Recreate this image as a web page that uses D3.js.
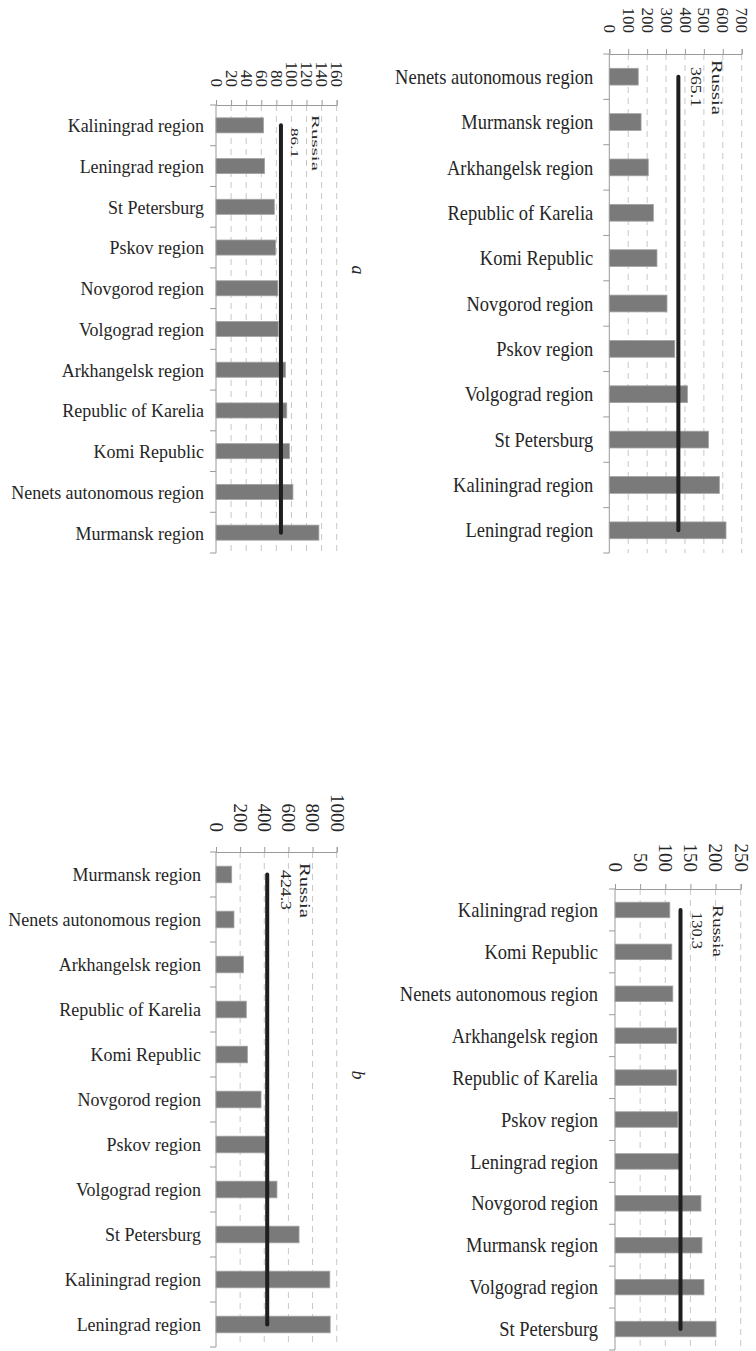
<!DOCTYPE html>
<html>
<head>
<meta charset="utf-8">
<script src="https://cdn.jsdelivr.net/npm/d3@7"></script>
<style>
  body { margin: 0; background: #fff; }
  svg { display: block; }
  text { font-family: "Liberation Serif", "Times New Roman", serif; fill: #262626; }
</style>
</head>
<body>
<svg id="chart" width="756" height="1351"></svg>
<script>
// Panel a, left
const regionsA1 = ["Kaliningrad region", "Leningrad region", "St Petersburg", "Pskov region",
  "Novgorod region", "Volgograd region", "Arkhangelsk region", "Republic of Karelia",
  "Komi Republic", "Nenets autonomous region", "Murmansk region"];
const valuesA1 = [63, 64.4, 77.3, 79, 82, 82.5, 92, 93.8, 97.3, 102, 136.4];
const russiaA1 = 86.1;
const ticksA1 = [0, 20, 40, 60, 80, 100, 120, 140, 160];

// Panel a, right
const regionsA2 = ["Nenets autonomous region", "Murmansk region", "Arkhangelsk region",
  "Republic of Karelia", "Komi Republic", "Novgorod region", "Pskov region",
  "Volgograd region", "St Petersburg", "Kaliningrad region", "Leningrad region"];
const valuesA2 = [153, 168, 206, 233, 252, 305, 346, 413, 524, 582, 617];
const russiaA2 = 365.1;
const ticksA2 = [0, 100, 200, 300, 400, 500, 600, 700];

// Panel b, left
const regionsB1 = ["Murmansk region", "Nenets autonomous region", "Arkhangelsk region",
  "Republic of Karelia", "Komi Republic", "Novgorod region", "Pskov region",
  "Volgograd region", "St Petersburg", "Kaliningrad region", "Leningrad region"];
const valuesB1 = [130, 149, 227, 251, 260, 373, 414, 505, 688, 943, 946];
const russiaB1 = 424.3;
const ticksB1 = [0, 200, 400, 600, 800, 1000];

// Panel b, right
const regionsB2 = ["Kaliningrad region", "Komi Republic", "Nenets autonomous region",
  "Arkhangelsk region", "Republic of Karelia", "Pskov region", "Leningrad region",
  "Novgorod region", "Murmansk region", "Volgograd region", "St Petersburg"];
const valuesB2 = [109, 113, 115, 123, 123, 125, 131, 171, 173, 177, 201];
const russiaB2 = 130.3;
const ticksB2 = [0, 50, 100, 150, 200, 250];

const svg = d3.select("#chart");

const panels = [
  { cats: regionsA1, vals: valuesA1, russia: russiaA1, ticks: ticksA1,
    x0: 216, x1: 336.7, y0: 105, y1: 553, catFont: 18, catGap: 12, tickFont: 17, tickGap: 18,
    ru: { font: 10.5, nameDx: 31, nameDy: 10, nameLen: 56, valDx: 10, valDy: 23, valLen: 30 } },
  { cats: regionsA2, vals: valuesA2, russia: russiaA2, ticks: ticksA2,
    x0: 609.3, x1: 741.7, y0: 54, y1: 553, catFont: 18.5, catGap: 16, tickFont: 17, tickGap: 21,
    ru: { font: 15, nameDx: 34, nameDy: 6, nameLen: 55, valDx: 13, valDy: 13, valLen: 40 } },
  { cats: regionsB1, vals: valuesB1, russia: russiaB1, ticks: ticksB1,
    x0: 216, x1: 336.7, y0: 852, y1: 1347, catFont: 18, catGap: 15, tickFont: 19, tickGap: 20,
    ru: { font: 15, nameDx: 33, nameDy: 11, nameLen: 55, valDx: 14, valDy: 18, valLen: 40 } },
  { cats: regionsB2, vals: valuesB2, russia: russiaB2, ticks: ticksB2,
    x0: 615, x1: 740.7, y0: 889, y1: 1350, catFont: 18.5, catGap: 17, tickFont: 19, tickGap: 17,
    ru: { font: 15, nameDx: 32, nameDy: 16, nameLen: 52, valDx: 11, valDy: 23, valLen: 37 } }
];

panels.forEach(p => {
  const w = p.x1 - p.x0, h = p.y1 - p.y0;
  const x = d3.scaleLinear().domain([0, p.ticks[p.ticks.length - 1]]).range([0, w]);
  const y = d3.scaleBand().domain(p.cats).range([0, h]).paddingInner(0.63).paddingOuter(0.315);
  const step = y.step();
  const g = svg.append("g").attr("transform", `translate(${p.x0},${p.y0})`);

  // dashed gridlines
  g.append("g").selectAll("line")
    .data(p.ticks.filter(t => t > 0))
    .join("line")
    .attr("x1", d => x(d)).attr("x2", d => x(d))
    .attr("y1", 0).attr("y2", h)
    .attr("stroke", "#c8c8c8").attr("stroke-width", 1)
    .attr("stroke-dasharray", "6,5");

  // value axis along the top, labels turned a quarter
  const ax = g.append("g")
    .call(d3.axisTop(x).tickValues(p.ticks).tickSize(5).tickFormat(d => String(d)));
  ax.select(".domain").attr("stroke", "#9a9a9a");
  ax.selectAll(".tick line").attr("stroke", "#9a9a9a");
  ax.selectAll(".tick text")
    .attr("y", 0).attr("x", 0).attr("dy", "0.35em")
    .attr("text-anchor", "end")
    .attr("transform", `translate(0,${-p.tickGap}) rotate(90)`)
    .style("font-size", p.tickFont + "px")
    .attr("fill", "#262626");

  // category axis with ticks between categories
  g.append("line").attr("x1", 0).attr("x2", 0).attr("y1", 0).attr("y2", h)
    .attr("stroke", "#9a9a9a");
  g.append("g").selectAll("line")
    .data(d3.range(p.cats.length + 1))
    .join("line")
    .attr("x1", -6).attr("x2", 0)
    .attr("y1", i => i * step).attr("y2", i => i * step)
    .attr("stroke", "#9a9a9a");
  g.append("g").selectAll("text")
    .data(p.cats)
    .join("text")
    .attr("transform", d => `translate(${-p.catGap},${y(d) + y.bandwidth() / 2}) scale(1,1.1)`)
    .attr("dy", "0.35em")
    .attr("text-anchor", "end")
    .style("font-size", p.catFont + "px")
    .text(d => d);

  // bars
  g.append("g").selectAll("rect")
    .data(p.cats.map((c, i) => ({ c, v: p.vals[i] })))
    .join("rect")
    .attr("x", 0)
    .attr("y", d => y(d.c))
    .attr("width", d => x(d.v))
    .attr("height", y.bandwidth())
    .attr("fill", "#7a7a7a")
    .attr("stroke", "#a3a3a3").attr("stroke-width", 0.8);

  // national average line
  const rx = x(p.russia);
  const first = p.cats[0], last = p.cats[p.cats.length - 1];
  g.append("line")
    .attr("x1", rx).attr("x2", rx)
    .attr("y1", y(first) + y.bandwidth() / 2)
    .attr("y2", y(last) + y.bandwidth() / 2)
    .attr("stroke", "#1e1e1e").attr("stroke-width", 4)
    .attr("stroke-linecap", "round");

  g.append("text")
    .attr("transform", `translate(${rx + p.ru.nameDx},${p.ru.nameDy}) rotate(90)`)
    .attr("textLength", p.ru.nameLen).attr("lengthAdjust", "spacingAndGlyphs")
    .style("font-size", p.ru.font + "px")
    .text("Russia");
  g.append("text")
    .attr("transform", `translate(${rx + p.ru.valDx},${p.ru.valDy}) rotate(90)`)
    .attr("textLength", p.ru.valLen).attr("lengthAdjust", "spacingAndGlyphs")
    .style("font-size", p.ru.font + "px")
    .text(String(p.russia));
});

// panel letters
[["a", 270], ["b", 1075]].forEach(([t, yy]) => {
  svg.append("text")
    .attr("transform", `translate(352,${yy}) rotate(90)`)
    .attr("text-anchor", "middle")
    .style("font-size", "18px").style("font-style", "italic")
    .text(t);
});
</script>
</body>
</html>
